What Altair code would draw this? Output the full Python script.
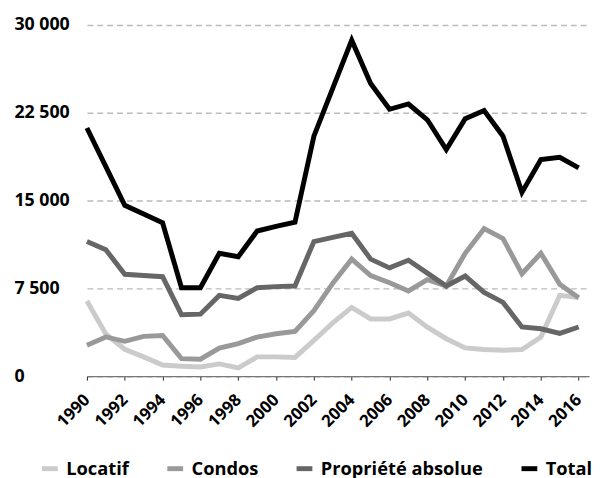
import altair as alt
import pandas as pd

years = list(range(1990, 2017))
locatif = [6430, 3600, 2300, 1650, 950, 850, 780, 1050, 700, 1650, 1650, 1600, 3060,
           4550, 5870, 4890, 4890, 5390, 4190, 3200, 2420, 2280, 2220, 2280, 3340, 6900, 6720]
condos = [2650, 3350, 2980, 3400, 3480, 1500, 1450, 2400, 2780, 3340, 3620, 3820, 5600,
          7950, 10000, 8600, 7980, 7280, 8250, 7700, 10500, 12600, 11750, 8750, 10500, 7850, 6700]
propriete = [11500, 10800, 8700, 8600, 8500, 5250, 5300, 6900, 6650, 7550, 7650, 7700, 11500,
             11850, 12200, 10000, 9250, 9900, 8800, 7700, 8550, 7150, 6300, 4200, 4050, 3650, 4200]
total = [21200, 17900, 14600, 13850, 13100, 7550, 7550, 10500, 10200, 12400, 12800, 13150, 20500,
         24600, 28700, 25000, 22800, 23250, 21900, 19350, 22000, 22700, 20500, 15700, 18500, 18700, 17800]

series_names = ["Locatif", "Condos", "Propriété absolue", "Total"]
colors = ["#cbcbcb", "#999999", "#666666", "#000000"]
y_ticks = [0, 7500, 15000, 22500, 30000]
x_ticks = list(range(1990, 2017, 2))

rows = []
for k, (name, vals) in enumerate(zip(series_names, [locatif, condos, propriete, total])):
    for yr, v in zip(years, vals):
        rows.append({"year": yr, "value": v, "series": name, "z": k})
df = pd.DataFrame(rows)

FONT = "Open Sans"

chart = alt.Chart(df).mark_line(strokeWidth=5).encode(
    x=alt.X("year:Q",
            scale=alt.Scale(domain=[1990, 2016.55], nice=False, zero=False),
            axis=alt.Axis(values=x_ticks, format="d", labelAngle=-45, labelAlign="right",
                          labelBaseline="middle", labelPadding=17, grid=False,
                          labelOverlap=False, labelBound=False, labelFlush=False,
                          domainColor="#777777", domainWidth=1.2, tickColor="#222222",
                          tickSize=4, tickWidth=1, labelFont=FONT, labelFontSize=17,
                          labelFontWeight="bold", labelColor="#000000", title=None)),
    y=alt.Y("value:Q",
            scale=alt.Scale(domain=[0, 30000], nice=False),
            axis=alt.Axis(values=y_ticks, labelExpr="replace(format(datum.value, ',d'), ',', ' ')",
                          grid=True, gridDash=[6, 4], gridColor="#bbbbbb", gridWidth=1.5,
                          domain=False, ticks=False, labelAlign="left", labelBaseline="middle",
                          labelPadding=74, labelFont=FONT, labelFontSize=18,
                          labelFontWeight="bold", labelColor="#000000", title=None)),
    color=alt.Color("series:N",
                    scale=alt.Scale(domain=series_names, range=colors),
                    sort=series_names,
                    legend=alt.Legend(orient="none", legendX=-48, legendY=439,
                                      direction="horizontal", title=None,
                                      symbolType="stroke", symbolStrokeWidth=5, symbolSize=256,
                                      labelFont=FONT, labelFontSize=18.5, labelFontWeight="bold",
                                      labelColor="#000000", labelOffset=6, columnPadding=28,
                                      labelLimit=300, padding=0)),
    order=alt.Order("z:Q"),
).properties(
    width=509, height=356,
    padding={"left": 80, "top": 14, "right": 6, "bottom": 100},
    autosize=alt.AutoSizeParams(type="none"),
).configure_view(stroke=None)

chart.save("out.html", embed_options={"renderer": "svg", "actions": False})
